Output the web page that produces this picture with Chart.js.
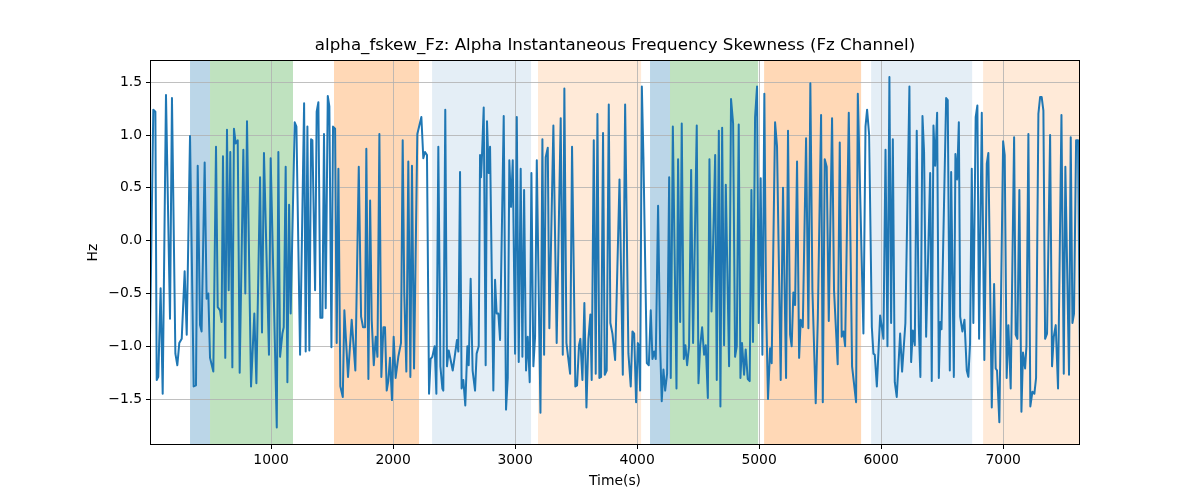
<!DOCTYPE html>
<html><head><meta charset="utf-8">
<script src="https://cdn.jsdelivr.net/npm/chart.js@4.4.0/dist/chart.umd.min.js"></script>
<style>html,body{margin:0;padding:0;background:#fff;}</style>
</head><body>
<canvas id="c" width="1200" height="500"></canvas>
<script>
// ---- data ----
const times = [8,35,52,63,76,95,112,139,172,188,216,232,248,268,292,309,336,366,385,399,418,431,456,472,486,500,527,549,563,582,595,606,625,639,653,666,683,696,710,727,743,773,789,803,836,863,880,910,926,942,983,
997,1047,1060,1074,1093,1104,1120,1134,1148,1161,1194,1208,1238,1271,1284,1298,1314,1328,1339,1361,1374,1388,1404,1421,1434,1448,1465,1478,1495,1508,1525,1538,1552,1568,1588,1601,1631,1661,1691,1719,1738,1754,1771,1781,1798,1812,1825,1842,1858,1872,1888,1904,1921,1934,
1948,1961,1975,1991,2005,2021,2043,2065,2079,2092,2109,2125,2142,2155,2172,2199,2232,2248,2262,2278,2295,2308,2322,2341,2355,2371,2388,2404,2412,2428,2442,2456,2472,2489,2505,2524,2535,2549,2562,2576,2592,2609,2620,2636,2652,2672,2685,2702,2713,2721,2729,2743,2759,2770,2784,2795,2822,2836,2849,2863,2877,
2907,2926,2940,2953,2967,2981,3000,3014,3030,3046,3060,3074,3090,3104,3120,3134,3150,3164,3178,3208,3224,3238,3251,3268,3281,3314,3341,3374,3391,3404,3421,3451,3467,3494,3508,3524,3535,3552,3568,3585,3601,3617,3628,3645,3661,3675,3691,3705,3721,3735,3751,3768,3781,3798,3820,
3856,3883,3902,3929,3948,3962,3976,3992,4006,4014,4025,4039,4052,4080,4096,4112,4126,4140,4153,4172,4189,4202,4216,4230,4246,4263,4276,4293,4323,4336,4353,4366,4383,4396,4410,4426,4443,4459,4489,4503,4517,4533,4549,4563,4580,4593,4610,4640,4653,4670,4683,4697,4713,4727,4754,
4770,4787,4803,4817,4833,4847,4860,4877,4890,4907,4923,4937,4950,4967,4983,4997,5013,5027,5043,5057,5073,5090,5103,5131,5147,5177,5196,5221,5237,5254,5267,5281,5295,5311,5328,5341,5358,5385,5404,5420,5437,5464,5481,5508,5522,5538,5554,5571,5598,5614,5644,5661,5677,5691,5705,
5735,5762,5795,5809,5855,5872,5885,5902,5924,5937,5948,5965,5992,6006,6019,6036,6052,6068,6082,6096,6112,6128,6156,6172,6199,6232,6246,6260,6276,6292,6309,6322,6339,6352,6369,6402,6415,6429,6443,6459,6473,6484,6495,6533,6546,6563,6574,6596,6609,6623,6637,6648,
6666,6683,6702,6715,6729,6743,6756,6775,6789,6803,6825,6846,6866,6879,6907,6926,6939,6950,6969,7000,7013,7029,7043,7062,7090,7103,7117,7133,7150,7163,7180,7191,7207,7223,7240,7256,7270,7289,7303,7316,7330,7344,7360,7385,7401,7415,7431,7450,7478,7497,7510,7540,7554,7568,7581,7598,7614,7630];

const fskew = [-0.91,1.24,1.22,-1.32,-1.29,-0.45,-1.45,1.38,-0.74,1.35,-1.07,-1.18,-0.97,-0.93,-0.29,-0.89,0.99,-1.38,-1.37,0.71,-0.80,-0.86,0.74,-0.55,-0.50,-1.11,-1.24,0.89,-0.63,-0.66,-0.77,0.80,-1.11,1.05,-0.47,0.84,-1.20,1.06,0.92,0.95,-1.25,0.86,-0.50,1.13,-1.38,-0.69,-1.35,0.60,-0.87,0.83,-1.08,
0.78,-1.77,0.84,-1.10,-0.88,-0.82,0.70,-1.34,0.34,-0.69,1.12,1.08,-1.08,1.30,-1.05,1.08,-1.04,0.96,0.95,-0.47,1.22,1.31,-0.73,-0.73,1.01,-0.64,1.37,1.27,-1.01,1.08,1.06,-0.97,0.68,-1.38,-1.48,-0.66,-1.29,-0.75,-1.23,0.70,-0.72,-0.82,-0.82,0.87,-1.31,0.38,-0.75,-1.18,-0.91,-1.10,1.01,-1.29,-0.82,-0.82,
-1.42,-1.33,-1.11,-1.51,-0.91,-1.30,-1.10,-0.97,0.95,-0.50,-1.24,0.75,-1.29,0.71,-1.21,1.01,1.17,0.78,0.84,0.81,-1.45,-1.12,-1.10,-1.00,-1.45,0.89,-1.19,-1.40,-1.42,1.24,-1.19,-1.04,-1.13,-1.23,-1.10,-0.94,-1.05,0.65,-1.40,-1.32,-1.56,-1.00,-1.18,-0.36,-1.23,-1.42,-1.07,-1.00,0.81,0.60,0.81,1.26,-1.18,1.13,0.64,0.89,-1.42,-0.37,-0.69,-0.69,-0.94,
1.18,-1.60,-1.30,0.76,0.32,0.76,-1.07,1.17,-1.15,0.68,-1.10,0.48,-1.23,-0.91,-1.34,0.64,-1.19,-0.91,0.76,-1.63,0.96,-1.08,0.79,0.88,-0.83,1.09,-0.97,1.16,-1.08,1.44,-0.97,-1.26,0.89,-1.38,-1.37,-0.99,-0.93,-1.32,-0.59,-1.58,-0.93,-0.70,-1.32,0.95,-1.26,1.20,-1.30,-1.29,1.02,-1.27,-1.23,1.29,-0.78,-0.88,-1.13,
0.58,-1.27,1.29,-1.07,-1.38,-0.86,-0.88,-1.53,-0.97,-0.99,-1.42,1.46,0.79,-1.16,-1.18,-0.66,-1.12,-1.05,-1.12,0.33,-1.00,-1.52,-1.22,-1.42,-1.26,0.60,-1.30,1.08,-1.40,0.77,-0.77,1.11,-1.12,-0.99,-1.18,-1.00,0.67,-0.97,1.09,-1.35,-1.00,-0.82,-1.08,-0.99,-1.49,0.77,-0.67,0.81,-1.32,1.04,-1.57,1.07,-0.99,0.53,-1.19,
1.34,1.11,-1.10,-1.00,1.10,-1.30,-0.97,-1.27,-1.03,-1.31,-1.33,0.48,-0.96,1.17,1.46,-0.78,0.59,-1.08,1.39,-0.60,-1.50,-1.02,-1.16,1.12,0.89,-1.32,0.50,-1.30,1.04,-0.89,-1.00,-0.49,-0.61,0.75,-1.11,-0.75,-0.82,0.97,-0.83,1.49,-0.47,-1.54,-0.75,1.19,-1.53,0.77,0.70,-0.76,1.16,-0.47,-1.17,0.93,-0.91,-0.86,-1.00,
1.21,-1.19,-1.53,1.39,-0.88,1.08,1.24,1.00,-0.82,-1.07,-1.08,-1.38,-0.71,-0.82,-0.93,0.86,-1.00,1.55,-0.78,0.96,-1.34,-1.48,-0.88,-1.24,-0.78,1.46,-1.15,-0.85,-0.99,1.04,-0.82,-1.29,1.18,0.84,-0.91,0.64,-1.33,1.09,0.71,1.21,-1.30,-0.77,-0.84,1.35,1.33,-1.23,0.65,-1.29,0.82,0.58,1.12,-0.72,
-0.86,-0.75,-1.23,-1.29,-0.97,0.68,-0.78,1.17,1.28,-0.93,1.21,-1.13,0.73,0.83,-1.58,-0.41,-1.21,-1.23,-1.72,0.94,0.81,-1.30,-0.80,-1.40,0.98,-0.89,-0.93,0.48,-1.62,-1.06,-1.21,-1.00,1.01,-1.57,-1.43,-1.45,-1.30,1.20,1.36,1.36,1.23,-0.93,-0.88,1.00,-1.19,-0.91,-0.80,-1.40,1.19,-1.26,0.70,-1.27,0.98,-0.78,-0.69,0.95,0.95,-1.16];

const xTicks = [1000,2000,3000,4000,5000,6000,7000];
const yTicks = [-1.5,-1.0,-0.5,0.0,0.5,1.0,1.5];

// shaded periods (start, end, kind)
const spanStart = [336,500,1516,2320,3188,4106,4270,5041,5918,6836];
const spanEnd   = [500,1180,2213,3131,4033,4270,4992,5836,6746,7630];
const spanKind  = ['A','B','C','D','E','A','B','C','D','E'];

// ---- styles ----
const kindColor = {
  A:'rgba(31,119,180,0.30)',
  B:'rgba(44,160,44,0.30)',
  C:'rgba(255,127,14,0.30)',
  D:'rgba(31,119,180,0.12)',
  E:'rgba(255,127,14,0.16)'
};
const FONT = "'DejaVu Sans', sans-serif";

const spanPlugin = {
  id:'spans',
  beforeDraw(chart){
    const {ctx, chartArea:a, scales:{x}} = chart;
    ctx.save();
    ctx.beginPath(); ctx.rect(a.left,a.top,a.width,a.height); ctx.clip();
    for(let i=0;i<spanStart.length;i++){
      const x0 = x.getPixelForValue(spanStart[i]);
      const x1 = x.getPixelForValue(spanEnd[i]);
      ctx.fillStyle = kindColor[spanKind[i]];
      ctx.fillRect(x0, a.top, x1-x0, a.height);
    }
    ctx.restore();
  }
};
const framePlugin = {
  id:'frame',
  afterDatasetsDraw(chart){
    const {ctx, chartArea:a} = chart;
    ctx.save();
    ctx.strokeStyle='#000'; ctx.lineWidth=1;
    ctx.strokeRect(Math.round(a.left)+0.5, Math.round(a.top)+0.5, Math.round(a.width)-1, Math.round(a.height)-1);
    ctx.restore();
  }
};

const fmt = v => (Math.abs(v)<1e-9?0:v).toFixed(1).replace('-', '\u2212');

new Chart(document.getElementById('c'), {
  type:'line',
  data:{datasets:[{
    data: times.map((t,i)=>({x:t,y:fskew[i]})),
    borderColor:'#1f77b4', borderWidth:2, pointRadius:0, tension:0,
    borderJoinStyle:'round', fill:false
  }]},
  options:{
    responsive:false, animation:false, devicePixelRatio:1,
    layout:{padding:{top:26,right:120,left:0,bottom:0}},
    plugins:{
      legend:{display:false}, tooltip:{enabled:false},
      title:{display:true, fullSize:false, text:'alpha_fskew_Fz: Alpha Instantaneous Frequency Skewness (Fz Channel)',
        color:'#000', font:{family:FONT,size:16.7,weight:'normal'}, padding:{top:10,bottom:4}}
    },
    scales:{
      x:{type:'linear', min:8, max:7630,
        afterBuildTicks:s=>{s.ticks = xTicks.map(v=>({value:v}));},
        afterFit:s=>{s.height=55;},
        ticks:{color:'#000', font:{family:FONT,size:13.9}, padding:3, maxRotation:0, autoSkip:false, callback:v=>String(v)},
        grid:{color:'#b0b0b0', lineWidth:0.8, tickLength:4, tickColor:'#000', tickWidth:1},
        border:{display:false},
        title:{display:true, text:'Time(s)', color:'#000', font:{family:FONT,size:13.9}, padding:{top:0,bottom:10.5}}
      },
      y:{type:'linear', min:-1.935, max:1.71,
        afterBuildTicks:s=>{s.ticks = yTicks.map(v=>({value:v}));},
        afterFit:s=>{s.width=150;},
        ticks:{color:'#000', font:{family:FONT,size:13.9}, padding:4, autoSkip:false, callback:v=>fmt(v)},
        grid:{color:'#b0b0b0', lineWidth:0.8, tickLength:4, tickColor:'#000', tickWidth:1},
        border:{display:false},
        title:{display:true, text:'Hz', color:'#000', font:{family:FONT,size:13.9}, padding:{top:85,bottom:0}}
      }
    }
  },
  plugins:[spanPlugin, framePlugin]
});
</script>
</body></html>
